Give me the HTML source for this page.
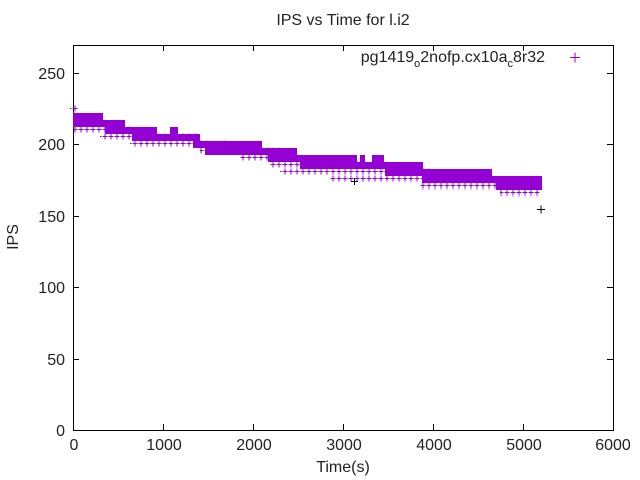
<!DOCTYPE html>
<html><head><meta charset="utf-8"><style>body{margin:0;background:#fff}svg{display:block}text{font-family:"Liberation Sans",sans-serif;fill:#222}</style></head><body>
<svg width="640" height="480" viewBox="0 0 640 480" xmlns="http://www.w3.org/2000/svg">
<defs>
<pattern id="pp" x="0" y="0" width="6" height="7" patternUnits="userSpaceOnUse">
<path d="M0.5 3.5h5M3 0.5v6" stroke="#9400d3" stroke-width="1"/>
</pattern>
</defs>
<rect width="640" height="480" fill="#fff"/>
<text x="343" y="25" font-size="16" text-anchor="middle">IPS vs Time for l.i2</text>
<g stroke="#000" stroke-width="1" fill="none">
<rect x="73.5" y="45.5" width="540" height="385"/>
<path d="M73 359.5h6M613 359.5h-6M73 287.5h6M613 287.5h-6M73 216.5h6M613 216.5h-6M73 144.5h6M613 144.5h-6M73 73.5h6M613 73.5h-6"/>
<path d="M163.5 430v-6M163.5 45v6M253.5 430v-6M253.5 45v6M343.5 430v-6M343.5 45v6M433.5 430v-6M433.5 45v6M523.5 430v-6M523.5 45v6"/>
</g>
<g font-size="16" text-anchor="end">
<text x="65" y="436">0</text><text x="65" y="365">50</text><text x="65" y="293">100</text><text x="65" y="222">150</text><text x="65" y="150">200</text><text x="65" y="79">250</text>
</g>
<g font-size="16" text-anchor="middle">
<text x="74" y="450">0</text><text x="164" y="450">1000</text><text x="254" y="450">2000</text><text x="344" y="450">3000</text><text x="434" y="450">4000</text><text x="524" y="450">5000</text><text x="613" y="450">6000</text>
<text x="343" y="472">Time(s)</text>
<text transform="translate(18,237) rotate(-90)">IPS</text>
</g>
<text x="545" y="62" font-size="16" text-anchor="end">pg1419<tspan font-size="11" dy="5">o</tspan><tspan dy="-5">2nofp.cx10a</tspan><tspan font-size="11" dy="5">c</tspan><tspan dy="-5">8r32</tspan></text>
<path d="M570 57.5h10M575 52.5v10" stroke="#9400d3"/>
<g fill="url(#pp)">
<rect x="74" y="126" width="60" height="7"/>
<rect x="100" y="133" width="100" height="7"/>
<rect x="130" y="140" width="100" height="7"/>
<rect x="200" y="147" width="80" height="7"/>
<rect x="240" y="154" width="60" height="7"/>
<rect x="270" y="161" width="90" height="7"/>
<rect x="280" y="168" width="150" height="7"/>
<rect x="330" y="175" width="100" height="7"/>
<rect x="420" y="183" width="80" height="7"/>
<rect x="500" y="190" width="40" height="7"/>
<rect x="70" y="105" width="8" height="7"/>
</g>
<g fill="#9400d3">
<rect x="73" y="113" width="30" height="7"/>
<rect x="73" y="120" width="52" height="7"/>
<rect x="105" y="127" width="52" height="7"/>
<rect x="170" y="127" width="8" height="7"/>
<rect x="132" y="134" width="68" height="7"/>
<rect x="193" y="141" width="69" height="7"/>
<rect x="205" y="148" width="92" height="7"/>
<rect x="268" y="155" width="89" height="7"/>
<rect x="360" y="155" width="5" height="7"/>
<rect x="372" y="155" width="12" height="7"/>
<rect x="300" y="162" width="123" height="7"/>
<rect x="385" y="169" width="107" height="7"/>
<rect x="422" y="176" width="120" height="7"/>
<rect x="496" y="183" width="46" height="7"/>
</g>
<path d="M537 209.5h8M541 205.5v8M351 181.5h7M354.5 178v7" stroke="#000"/>
</svg>
</body></html>
